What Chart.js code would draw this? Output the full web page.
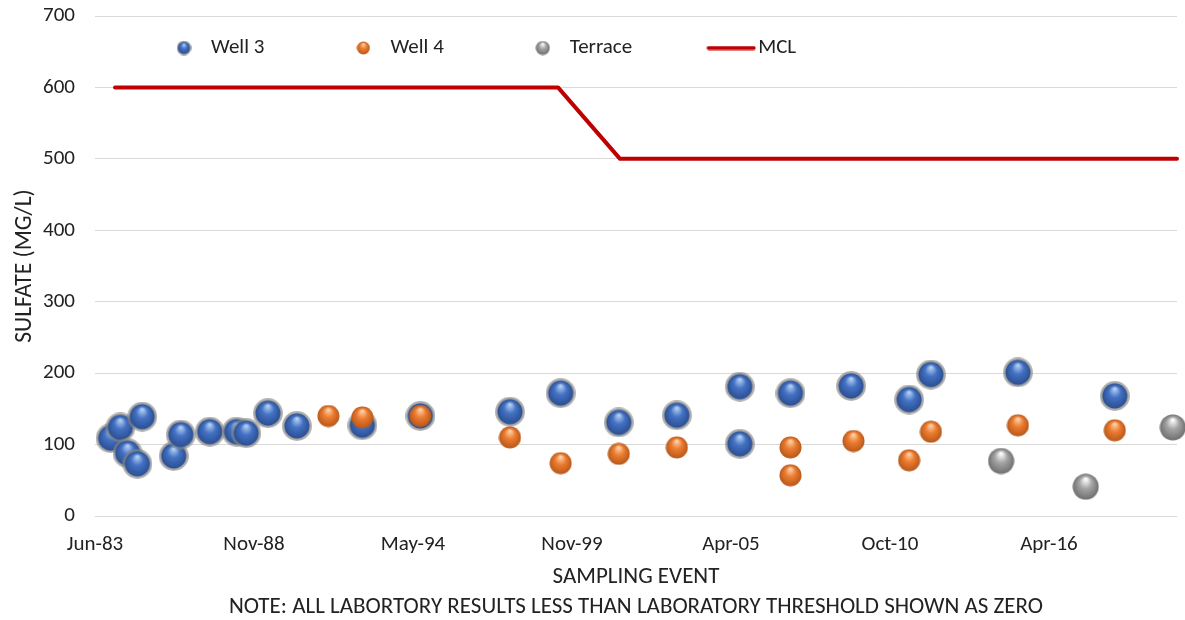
<!DOCTYPE html>
<html>
<head>
<meta charset="utf-8">
<script src="https://cdn.jsdelivr.net/npm/chart.js@4"></script>
<style>
  body { margin: 0; background: #fff; }
  #wrap { width: 1185px; height: 620px; }
</style>
</head>
<body>
<div id="wrap"><canvas id="sulfateChart"></canvas></div>
<script>
// sampling events (year-month) and sulfate results, mg/L
const well3Dates = ['1983-12', '1984-04', '1984-07', '1984-11', '1985-01', '1986-02', '1986-05', '1987-05',
  '1988-04', '1988-08', '1989-05', '1990-05', '1992-08', '1994-08', '1997-09', '1999-06', '2001-06',
  '2003-06', '2005-08', '2005-08', '2007-05', '2009-06', '2011-06', '2012-03', '2015-03', '2018-07'];
const well3Values = [109, 124, 88, 73, 139, 84, 114, 118, 118, 116, 144, 126, 127, 140, 146, 172, 131,
  141, 181, 101, 172, 182, 163, 198, 201, 168];

const well4Dates = ['1991-06', '1992-08', '1994-08', '1997-09', '1999-06', '2001-06', '2003-06', '2007-05',
  '2007-05', '2009-07', '2011-06', '2012-03', '2015-03', '2018-07'];
const well4Values = [140, 138, 140, 110, 74, 87, 96, 96, 57, 105, 78, 118, 127, 120];

const terraceDates = ['2014-08', '2017-07', '2020-07'];
const terraceValues = [77, 41, 124];

// maximum contaminant level
const mclDates = ['1984-02-08', '1999-05-12', '2001-07-01', '2020-09-05'];
const mclValues = [600, 600, 500, 500];

// x axis runs in days from axisStart, one label every 2000 days (excel style)
const axisStart = '1983-06-01';
const axisEnd = '2020-09-05';
const tickStepDays = 2000;
const xTickLabels = ['Jun-83', 'Nov-88', 'May-94', 'Nov-99', 'Apr-05', 'Oct-10', 'Apr-16'];
const yTicks = [0, 100, 200, 300, 400, 500, 600, 700];
const seriesLabels = ['Well 3', 'Well 4', 'Terrace', 'MCL'];

const DAY = 86400000;
function toDays(s) {
    const p = s.split('-').map(Number);
    const t = Date.UTC(p[0], p[1] - 1, p[2] || 15);
    const [y0, m0, d0] = axisStart.split('-').map(Number);
    return (t - Date.UTC(y0, m0 - 1, d0)) / DAY;
}
function toPoints(dates, values) {
    return dates.map((d, i) => ({ x: toDays(d), y: values[i] }));
}

// shaded ball markers like the excel bevel spheres
function makeBall(d, base, light, dark, ring) {
    const c = document.createElement('canvas');
    c.width = c.height = d;
    const g = c.getContext('2d');
    const r = d / 2;
    let ri = r - 0.5;
    if (ring) {
        const rg = g.createRadialGradient(r, r, r * 0.7, r, r, r);
        rg.addColorStop(0, ring);
        rg.addColorStop(1, 'rgba(130,130,130,0.55)');
        g.fillStyle = rg;
        g.beginPath(); g.arc(r, r, r, 0, Math.PI * 2); g.fill();
        ri = r - Math.max(1.5, d * 0.085);
    }
    const grad = g.createRadialGradient(r, r - ri * 0.6, ri * 0.05, r, r, ri);
    grad.addColorStop(0, light);
    grad.addColorStop(0.45, base);
    grad.addColorStop(1, dark);
    g.fillStyle = grad;
    g.beginPath(); g.arc(r, r, ri, 0, Math.PI * 2); g.fill();
    return c;
}
function makeLine(w, h, color) {
    const c = document.createElement('canvas');
    c.width = w; c.height = h;
    const g = c.getContext('2d');
    g.strokeStyle = color; g.lineWidth = h - 1; g.lineCap = 'round';
    g.beginPath(); g.moveTo(h / 2, h / 2); g.lineTo(w - h / 2, h / 2); g.stroke();
    return c;
}

const blueBall = makeBall(30, '#4472c4', '#b4d0f4', '#2b4f92', '#8a8a8a');
const orangeBall = makeBall(23, '#ed7d31', '#fdd3ad', '#b8581a');
const greyBall = makeBall(27, '#a5a5a5', '#ffffff', '#6f6f6f');
const legendIcons = [
    makeBall(15, '#4472c4', '#b4d0f4', '#2b4f92', '#8a8a8a'),
    makeBall(14, '#ed7d31', '#fdd3ad', '#b8581a'),
    makeBall(15, '#a5a5a5', '#ffffff', '#6f6f6f'),
    makeLine(50, 5, '#c00000')
];

const FONT = "Carlito, 'Open Sans', sans-serif";
const TEXT = '#222222';
const LEGEND_PAD = 82.5;

// legend sits inside the plot area, like the excel one
const legendPlace = {
    id: 'legendPlace',
    afterLayout(chart) {
        const lg = chart.legend;
        if (!lg) return;
        lg.left = chart.chartArea.left - 10;
        lg.right = chart.chartArea.right;
        lg.top = 48 - 10.5 - LEGEND_PAD;
        lg.bottom = 100;
        lg.width = lg.right - lg.left;
        lg.height = lg.bottom - lg.top;
    }
};

new Chart(document.getElementById('sulfateChart'), {
    type: 'scatter',
    data: {
        datasets: [
            { label: seriesLabels[0], data: toPoints(well3Dates, well3Values), pointStyle: blueBall, pointRadius: 15, order: 3, clip: false },
            { label: seriesLabels[1], data: toPoints(well4Dates, well4Values), pointStyle: orangeBall, pointRadius: 12, order: 2, clip: false },
            { label: seriesLabels[2], data: toPoints(terraceDates, terraceValues), pointStyle: greyBall, pointRadius: 14, order: 1, clip: false },
            {
                label: seriesLabels[3], data: toPoints(mclDates, mclValues), showLine: true,
                borderColor: '#c00000', borderWidth: 4, pointRadius: 0,
                borderJoinStyle: 'round', borderCapStyle: 'round', order: 0, clip: false
            }
        ]
    },
    options: {
        responsive: true,
        maintainAspectRatio: false,
        animation: false,
        events: [],
        layout: { autoPadding: false, padding: { top: 15, right: 8, bottom: 0, left: 0 } },
        plugins: {
            tooltip: { enabled: false },
            legend: {
                position: 'top',
                align: 'start',
                maxHeight: 1,
                labels: {
                    usePointStyle: true,
                    pointStyleWidth: 33,
                    padding: LEGEND_PAD,
                    color: TEXT,
                    font: { family: FONT, size: 21 },
                    generateLabels: chart => chart.data.datasets.map((ds, i) => ({
                        text: ds.label, pointStyle: legendIcons[i], datasetIndex: i, hidden: false,
                        fontColor: TEXT, lineWidth: 0, fillStyle: 'transparent', strokeStyle: 'transparent'
                    }))
                }
            }
        },
        scales: {
            x: {
                type: 'linear',
                min: toDays(axisStart),
                max: toDays(axisEnd),
                afterFit: s => { s.height = 104; s.paddingLeft = 0; s.paddingRight = 0; },
                afterBuildTicks: s => { s.ticks = xTickLabels.map((_, i) => ({ value: i * tickStepDays })); },
                grid: { display: false, drawTicks: false },
                border: { display: false },
                ticks: {
                    padding: 16,
                    color: TEXT,
                    maxRotation: 0,
                    autoSkip: false,
                    font: { family: FONT, size: 21 },
                    callback: (v, i) => xTickLabels[i]
                },
                title: {
                    display: true,
                    text: ['SAMPLING EVENT', 'NOTE: ALL LABORTORY RESULTS LESS THAN LABORATORY THRESHOLD SHOWN AS ZERO'],
                    color: TEXT,
                    font: { family: FONT, size: 23, lineHeight: '30px' },
                    padding: { top: 0, bottom: -2 }
                }
            },
            y: {
                min: yTicks[0],
                max: yTicks[yTicks.length - 1],
                afterFit: s => { s.width = 95; s.paddingTop = 0; s.paddingBottom = 0; },
                grid: { color: '#d9d9d9', lineWidth: 1, drawTicks: false },
                border: { display: false },
                afterBuildTicks: s => { s.ticks = yTicks.map(v => ({ value: v })); },
                ticks: {
                    padding: 20,
                    color: TEXT,
                    font: { family: FONT, size: 21 }
                },
                title: {
                    display: true,
                    text: 'SULFATE (MG/L)',
                    color: TEXT,
                    font: { family: FONT, size: 23.5 },
                    padding: { top: 11, bottom: 0 }
                }
            }
        }
    },
    plugins: [legendPlace]
});
</script>
</body>
</html>
